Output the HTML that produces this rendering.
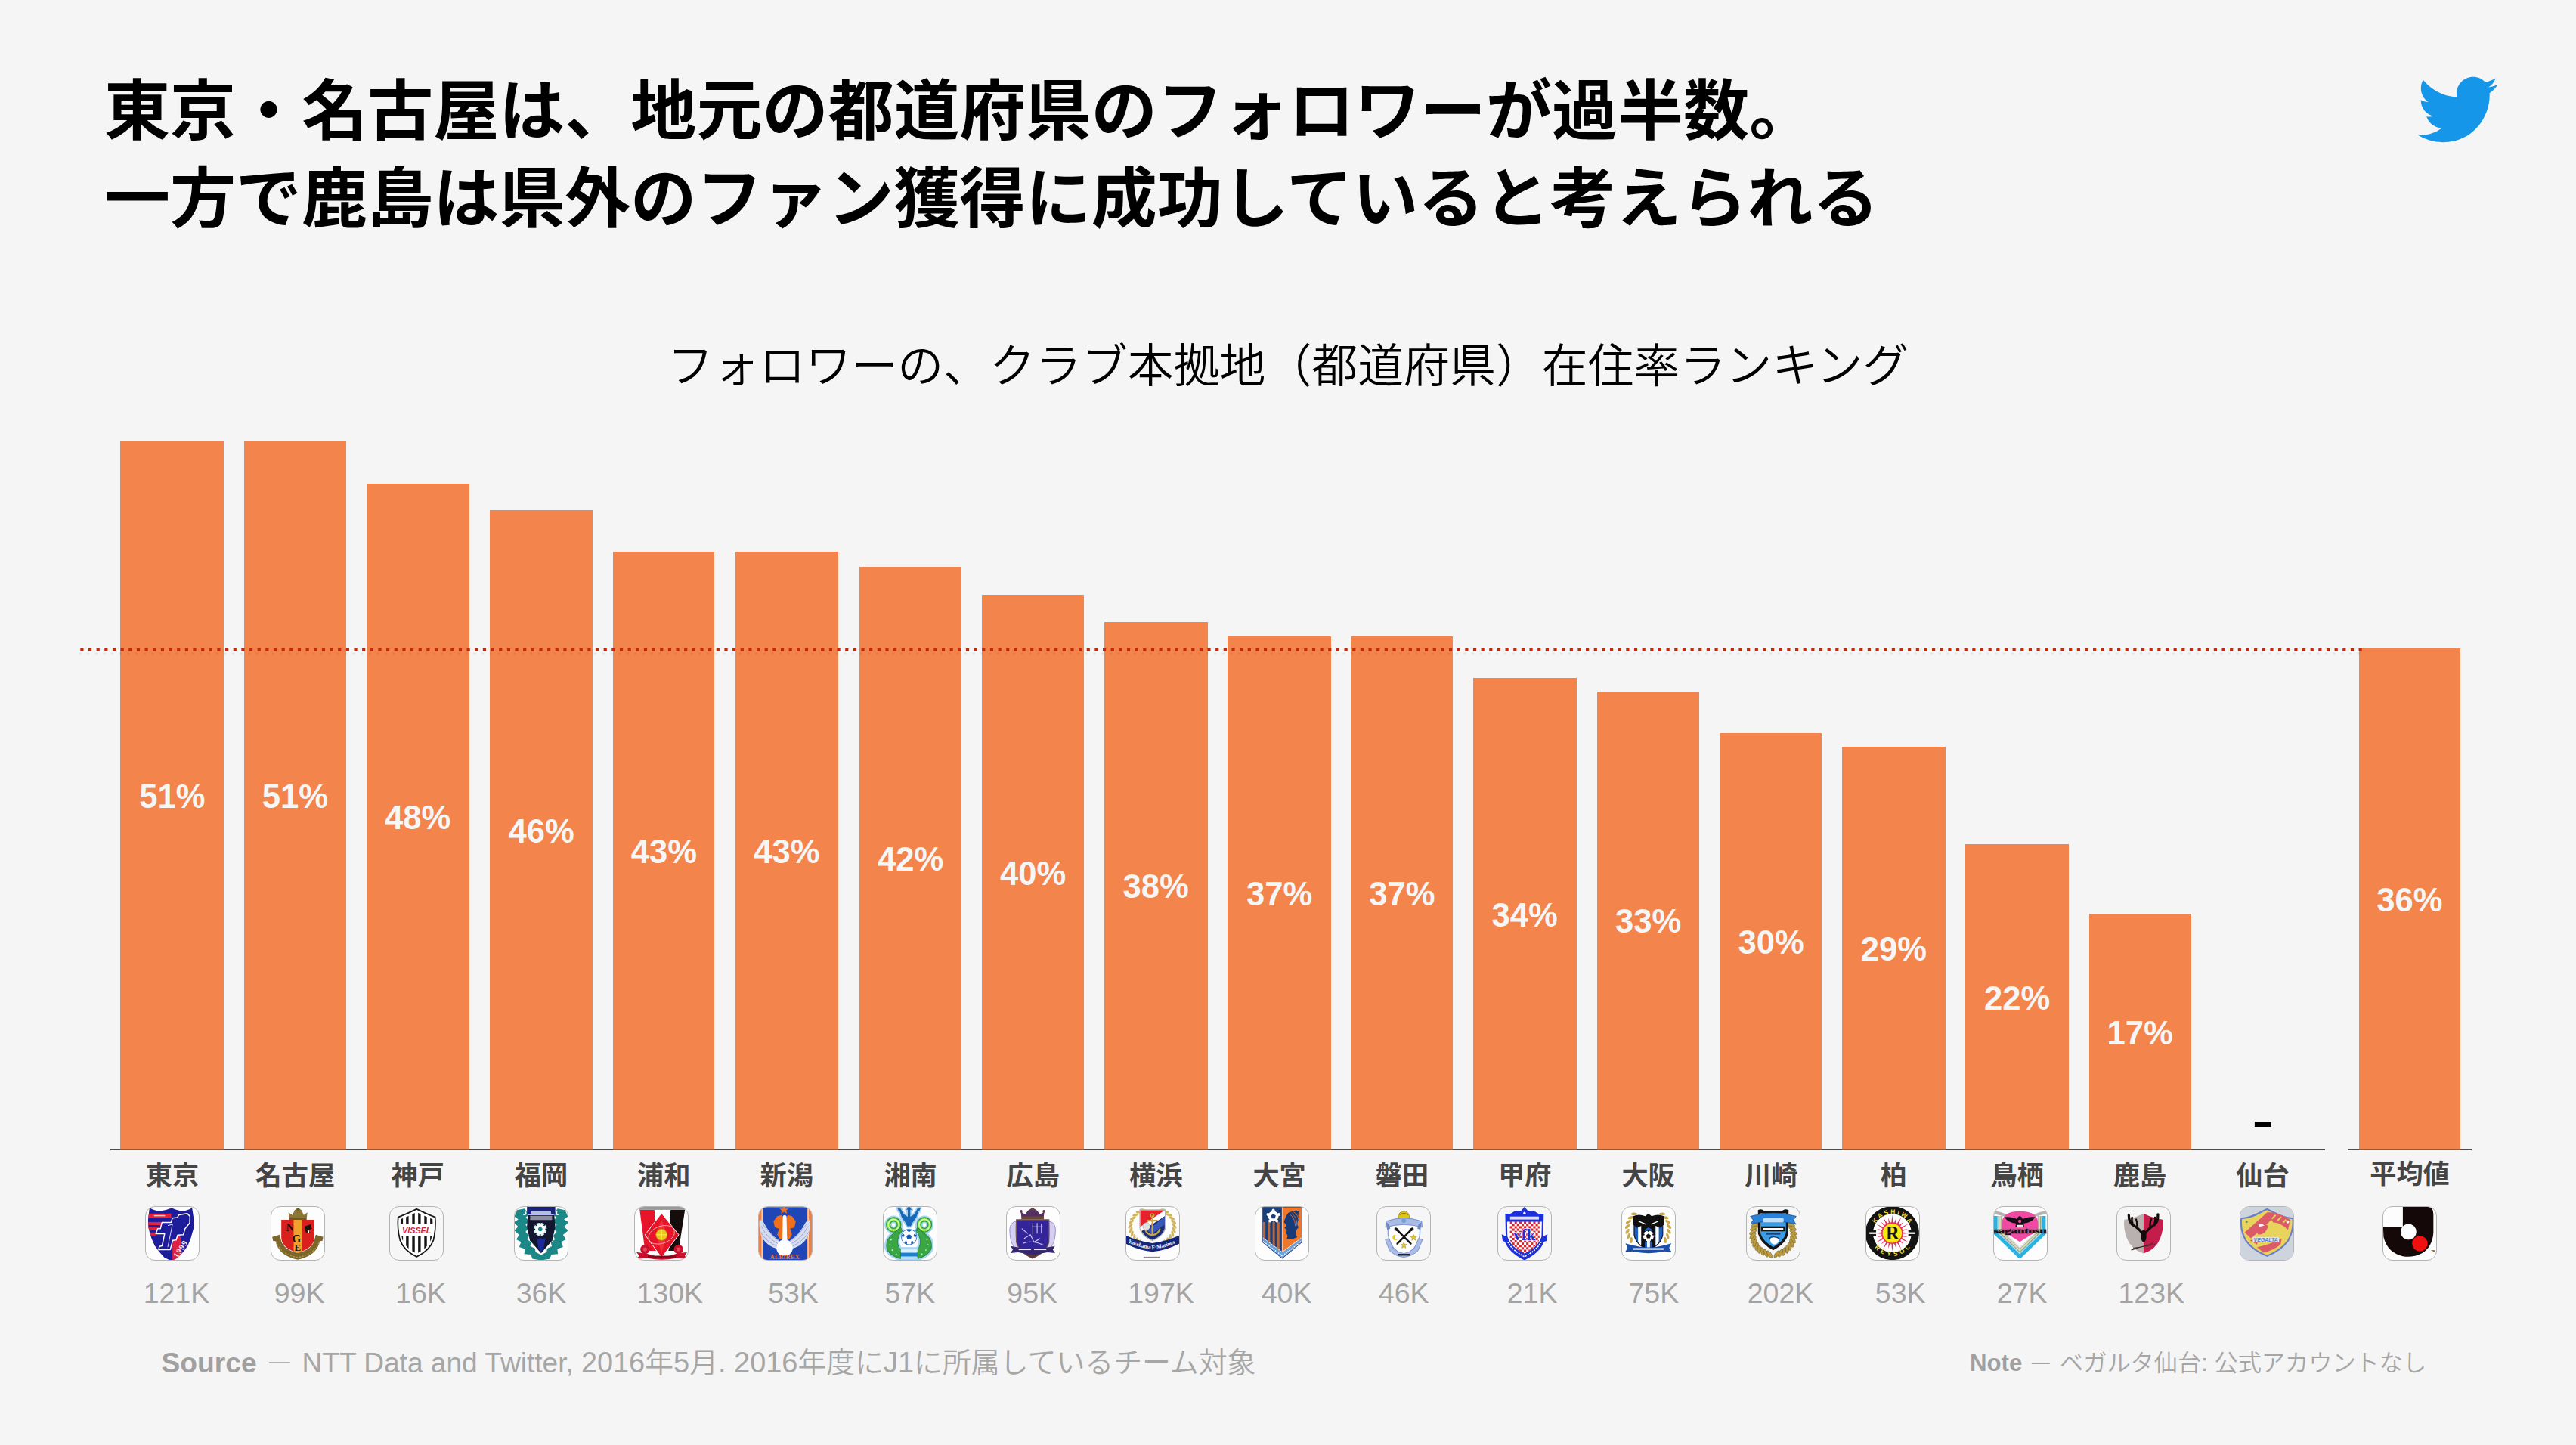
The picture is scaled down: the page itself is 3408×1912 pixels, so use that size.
<!DOCTYPE html>
<html lang="ja"><head><meta charset="utf-8"><title>フォロワーの、クラブ本拠地（都道府県）在住率ランキング</title>
<style>
html,body{margin:0;padding:0;background:#f5f5f5;}
body{width:3408px;height:1912px;position:relative;overflow:hidden;font-family:"Liberation Sans","Noto Sans CJK JP",sans-serif;}
.abs{position:absolute;white-space:nowrap;}
.title{left:138px;top:89.8px;font-size:87.05px;line-height:116.2px;font-weight:700;color:#000;letter-spacing:0;}
.sub{left:0;width:3408px;top:439.5px;text-align:center;font-size:60.9px;line-height:90px;font-weight:350;color:#000;font-family:"Liberation Sans","Noto Sans CJK JP DemiLight","Noto Sans CJK JP",sans-serif;}
.bar{position:absolute;background:#f3844b;display:flex;align-items:center;justify-content:center;border-bottom:2px solid #a2542c;box-sizing:border-box;}
.pct{color:#f6f6f6;font-weight:700;font-size:43.6px;line-height:44px;position:relative;top:2px;}
.axis{position:absolute;height:2px;background:#4c4c4c;top:1520px;}
.lab{position:absolute;top:1528px;width:200px;text-align:center;font-weight:700;font-size:35.2px;line-height:52px;color:#454545;white-space:nowrap;}
.ico{position:absolute;top:1596px;width:72px;height:72px;box-sizing:border-box;border:1px solid #b4b4b4;border-radius:13px;background:#fdfdfd;overflow:hidden;}
.ico svg{position:absolute;left:-1px;top:-1px;width:72px;height:72px;display:block;}
.num{position:absolute;top:1689px;width:200px;text-align:center;font-size:37.5px;line-height:44px;color:#a3a3a3;font-weight:400;white-space:nowrap;}
.foot{color:#a6a6a6;}
.foot b{color:#a0a0a0;font-weight:700;}
</style></head><body>
<div class="abs title">東京・名古屋は、地元の都道府県のフォロワーが過半数。<br>一方で鹿島は県外のファン獲得に成功していると考えられる</div>
<svg class="abs" style="left:3194.4px;top:88.9px;width:112.2px;height:112.2px" viewBox="0 0 24 24"><path fill="#1596e9" d="M23.643 4.937c-.835.37-1.732.62-2.675.733.962-.576 1.7-1.49 2.048-2.578-.9.534-1.897.922-2.958 1.13-.85-.904-2.06-1.47-3.4-1.47-2.572 0-4.658 2.086-4.658 4.66 0 .364.042.718.12 1.06-3.873-.195-7.304-2.05-9.602-4.868-.4.69-.63 1.49-.63 2.342 0 1.616.823 3.043 2.072 3.878-.764-.025-1.482-.234-2.11-.583v.06c0 2.257 1.605 4.14 3.737 4.568-.392.106-.803.162-1.227.162-.3 0-.593-.028-.877-.082.593 1.85 2.313 3.198 4.352 3.234-1.595 1.25-3.604 1.995-5.786 1.995-.376 0-.747-.022-1.112-.065 2.062 1.323 4.51 2.093 7.14 2.093 8.57 0 13.255-7.098 13.255-13.254 0-.2-.005-.402-.014-.602.91-.658 1.7-1.477 2.323-2.41z"/></svg>
<div class="abs sub">フォロワーの、クラブ本拠地（都道府県）在住率ランキング</div>
<div class="axis" style="left:145.5px;width:2930.7px"></div>
<div class="axis" style="left:3106.3px;width:163.6px"></div>
<div class="bar" style="left:159.4px;width:137.0px;top:584.4px;height:937.6px"><span class="pct">51%</span></div>
<div class="bar" style="left:323.0px;width:134.9px;top:584.4px;height:937.6px"><span class="pct">51%</span></div>
<div class="bar" style="left:484.6px;width:136.3px;top:639.5px;height:882.5px"><span class="pct">48%</span></div>
<div class="bar" style="left:647.6px;width:136.9px;top:675.2px;height:846.8px"><span class="pct">46%</span></div>
<div class="bar" style="left:811.2px;width:134.2px;top:730.0px;height:792.0px"><span class="pct">43%</span></div>
<div class="bar" style="left:972.7px;width:136.2px;top:730.0px;height:792.0px"><span class="pct">43%</span></div>
<div class="bar" style="left:1137.0px;width:135.2px;top:749.7px;height:772.3px"><span class="pct">42%</span></div>
<div class="bar" style="left:1299.2px;width:134.9px;top:787.1px;height:734.9px"><span class="pct">40%</span></div>
<div class="bar" style="left:1460.8px;width:136.9px;top:822.5px;height:699.5px"><span class="pct">38%</span></div>
<div class="bar" style="left:1624.4px;width:136.3px;top:842.2px;height:679.8px"><span class="pct">37%</span></div>
<div class="bar" style="left:1787.6px;width:134.7px;top:842.1px;height:679.9px"><span class="pct">37%</span></div>
<div class="bar" style="left:1949.0px;width:136.5px;top:897.1px;height:624.9px"><span class="pct">34%</span></div>
<div class="bar" style="left:2112.6px;width:135.9px;top:914.8px;height:607.2px"><span class="pct">33%</span></div>
<div class="bar" style="left:2275.9px;width:134.5px;top:969.9px;height:552.1px"><span class="pct">30%</span></div>
<div class="bar" style="left:2437.1px;width:136.7px;top:987.6px;height:534.4px"><span class="pct">29%</span></div>
<div class="bar" style="left:2600.4px;width:136.6px;top:1117.0px;height:405.0px"><span class="pct">22%</span></div>
<div class="bar" style="left:2763.7px;width:134.9px;top:1209.2px;height:312.8px"><span class="pct">17%</span></div>
<div class="abs" id="dash" style="left:2964.2px;top:1452.6px;width:60px;text-align:center;font-size:55px;line-height:60px;font-weight:700;color:#000;transform:scaleX(1.58)">-</div>
<div class="bar" style="left:3120.7px;width:134.6px;top:857.7px;height:664.3px"><span class="pct">36%</span></div>
<svg class="abs" style="left:0;top:850px;width:3408px;height:20px" viewBox="0 0 3408 20"><line x1="104.3" y1="15" x2="3124" y2="15" stroke="#000" stroke-opacity="0.06" stroke-width="3" stroke-dasharray="3.4 7.251"/><line x1="106.3" y1="9.9" x2="3126" y2="9.9" stroke="#c5290b" stroke-width="4.2" stroke-dasharray="4.2 6.451"/></svg>
<div class="lab" style="left:127.9px;top:1530px">東京</div>
<div class="ico" style="left:191.9px"><svg viewBox="0 0 72 72"><g transform="scale(0.16305) translate(-78,-68)">
<clipPath id="c1"><path d="M114,81 Q160,112 204,108 Q255,100 293,84 Q330,100 370,108 Q415,112 459,81 L474,180 Q476,240 465,270 Q452,330 424,388 Q392,440 346,483 L293,514 L233,483 Q190,440 156,388 Q126,330 114,280 Q100,240 102,180 Z"/></clipPath>
<g clip-path="url(#c1)">
<rect x="60" y="60" width="460" height="460" fill="#1d1c9a"/>
<rect x="90" y="128" width="200" height="36" fill="#e0213f"/>
<rect x="90" y="196" width="140" height="26" fill="#e0213f"/>
<rect x="90" y="240" width="100" height="24" fill="#e0213f"/>
<rect x="90" y="282" width="80" height="24" fill="#e0213f"/>
<rect x="300" y="318" width="66" height="200" fill="#e0213f"/>
<rect x="300" y="300" width="60" height="40" fill="#e0213f"/>
</g>
<path d="M215,200 L288,200 L300,165 L340,160 L352,138 L420,128 L442,150 L440,205 L402,250 L388,300 L342,302 L330,342 L302,346 L282,420 L188,420 L194,394 L216,390 L236,292 L165,292 L180,250 L202,250 Z" fill="#1d1c9a" stroke="#fff" stroke-width="9" stroke-linejoin="round"/>
<path d="M262,225 L300,215 L262,400" fill="none" stroke="#fff" stroke-width="5"/>
<text x="0" y="0" transform="translate(342,492) rotate(-57)" font-family="Liberation Serif,serif" font-weight="700" font-size="68" fill="#ffdfe4" letter-spacing="5">1999</text>
<rect x="150" y="140" width="90" height="10" fill="#fff" opacity=".7"/>
</g></svg></div>
<div class="num" style="left:133.5px">121K</div>
<div class="lab" style="left:290.4px;top:1530px">名古屋</div>
<div class="ico" style="left:357.5px"><svg viewBox="0 0 72 72"><g transform="scale(0.16305) translate(-1095,-68)">
<path d="M1108,318 L1168,300 L1180,345 Q1200,420 1315,448 Q1430,420 1450,345 L1462,300 L1522,318 L1515,350 L1495,352 Q1470,470 1315,502 Q1160,470 1135,352 L1115,350 Z" fill="#7d6629"/>
<path d="M1140,355 Q1170,455 1315,485 Q1460,455 1490,355" fill="none" stroke="#b39a4a" stroke-width="8" stroke-dasharray="14 10"/>
<path d="M1182,178 L1450,178 L1450,330 Q1440,410 1315,447 Q1192,410 1182,330 Z" fill="#d9201d"/>
<path d="M1282,178 L1352,178 L1352,432 L1315,447 L1282,434 Z" fill="#f0a12a"/>
<path d="M1248,178 L1240,118 L1272,140 L1290,100 L1318,82 L1346,100 L1364,140 L1394,118 L1386,178 Z" fill="#8b7636"/>
<circle cx="1318" cy="92" r="12" fill="#6d5a22"/><rect x="1248" y="160" width="138" height="18" fill="#6d5a22"/>
<g font-family="Liberation Serif,serif" font-weight="700" fill="#1a1208">
<text x="1222" y="272" font-size="86">N</text>
<text x="1270" y="360" font-size="92">G</text>
<text x="1288" y="432" font-size="80">E</text></g>
<path d="M1372,232 L1420,215 L1430,250 L1400,262 L1420,285 L1380,280 Z" fill="#1a1208"/>
<path d="M1395,262 Q1410,270 1402,285" stroke="#fff" stroke-width="8" fill="none"/>
</g></svg></div>
<div class="num" style="left:296.1px">99K</div>
<div class="lab" style="left:452.8px;top:1530px">神戸</div>
<div class="ico" style="left:515.0px;background:#f6f6f6"><svg viewBox="0 0 72 72"><g transform="scale(0.16305) translate(-2060,-68)">
<clipPath id="c3"><path d="M2132,158 Q2210,128 2282,92 Q2355,128 2432,158 Q2440,250 2418,345 Q2385,430 2282,478 Q2180,430 2148,345 Q2124,250 2132,158 Z" transform="translate(2282,285) scale(0.87) translate(-2282,-285)"/></clipPath>
<path d="M2132,158 Q2210,128 2282,92 Q2355,128 2432,158 Q2440,250 2418,345 Q2385,430 2282,478 Q2180,430 2148,345 Q2124,250 2132,158 Z" fill="#fff" stroke="#1a1a1a" stroke-width="11"/>
<g clip-path="url(#c3)"><rect x="2150" y="80" width="21" height="420" fill="#141414"/><rect x="2196" y="80" width="21" height="420" fill="#141414"/><rect x="2246" y="80" width="21" height="420" fill="#141414"/><rect x="2294" y="80" width="21" height="420" fill="#141414"/><rect x="2344" y="80" width="21" height="420" fill="#141414"/><rect x="2392" y="80" width="21" height="420" fill="#141414"/></g>
<path d="M2132,158 Q2210,128 2282,92 Q2355,128 2432,158 Q2440,250 2418,345 Q2385,430 2282,478 Q2180,430 2148,345 Q2124,250 2132,158 Z" fill="none" stroke="#fff" stroke-width="8" transform="translate(2282,285) scale(0.93) translate(-2282,-285)"/>
<rect x="2146" y="212" width="272" height="98" fill="#fff"/>
<text x="2164" y="288" font-family="Liberation Sans,sans-serif" font-weight="700" font-style="italic" font-size="62" fill="#d21d3c" textLength="236" lengthAdjust="spacingAndGlyphs">VISSEL</text>
</g></svg></div>
<div class="num" style="left:456.6px">16K</div>
<div class="lab" style="left:616.0px;top:1530px">福岡</div>
<div class="ico" style="left:680.0px"><svg viewBox="0 0 72 72"><g transform="scale(0.16305) translate(-65,-68)">
<g fill="#1c8787" stroke="#1c8787" stroke-width="12" stroke-linejoin="miter">
<path d="M95,105 L150,95 L175,140 L150,160 L185,190 L150,215 L175,250 L150,275 L180,310 L165,340 L200,365 L190,395 L230,415 L235,445 L285,470 L335,445 L340,415 L380,395 L370,365 L405,340 L390,310 L420,275 L395,250 L420,215 L385,190 L420,160 L395,140 L420,95 L475,105 L495,150 L460,175 L498,200 L462,235 L495,265 L455,300 L478,335 L440,355 L455,395 L410,410 L415,450 L365,455 L350,490 L285,500 L220,490 L205,455 L155,450 L160,410 L115,395 L130,355 L92,335 L115,300 L75,265 L108,235 L72,200 L110,175 L75,150 Z"/>
</g>
<path d="M170,68 L400,68 L400,135 L170,135 Z" fill="#1a237e"/>
<path d="M205,110 L365,110 L365,130 L205,130 Z" fill="#b8c0d0"/>
<path d="M178,140 L392,140 L400,235 L376,345 L285,450 L194,345 L170,235 Z" fill="#12162e"/><rect x="196" y="146" width="178" height="34" fill="#8c8ea0"/>
<path d="M250,330 L320,330 L305,415 L285,438 L265,415 Z" fill="#1a2a9a"/>
<circle cx="278" cy="255" r="54" fill="#d8f4f4"/>
<circle cx="278" cy="255" r="40" fill="#fff"/>
<circle cx="278" cy="255" r="17" fill="#1c8787"/>
<g stroke="#12162e" stroke-width="10"><path d="M278,198 V214 M278,296 V312 M221,255 H237 M319,255 H335 M238,215 L249,226 M307,284 L318,295 M238,295 L249,284 M307,226 L318,215"/></g>
<circle cx="150" cy="125" r="16" fill="#fff"/><circle cx="140" cy="120" r="14" fill="#1c8787"/>
<circle cx="418" cy="125" r="16" fill="#fff"/><circle cx="428" cy="120" r="14" fill="#1c8787"/>
</g></svg></div>
<div class="num" style="left:616.0px">36K</div>
<div class="lab" style="left:778.3px;top:1530px">浦和</div>
<div class="ico" style="left:838.9px"><svg viewBox="0 0 72 72"><g transform="scale(0.16305) translate(-1040,-68)">
<rect x="1080" y="68" width="372" height="30" fill="#9a9a9a"/>
<path d="M1085,98 L1205,98 L1222,430 L1128,430 Z" fill="#e8152a"/>
<path d="M1205,98 L1242,98 L1236,300 L1222,430 Z" fill="#fff"/>
<path d="M1335,98 L1452,98 L1400,430 L1318,430 Z" fill="#160c0c"/>
<path d="M1300,98 L1335,98 L1318,430 L1290,300 Z" fill="#fff"/>
<path d="M1262,125 L1402,300 L1262,485 L1128,300 Z" fill="#e8152a" stroke="#fff" stroke-width="6"/>
<path d="M1262,175 L1215,300 L1262,440 L1310,300 Z" fill="#f0303a"/>
<ellipse cx="1262" cy="300" rx="110" ry="70" fill="none" stroke="#f8b0b0" stroke-width="5" transform="rotate(-20 1262 300)"/>
<circle cx="1262" cy="300" r="45" fill="#e8c818"/>
<circle cx="1262" cy="300" r="45" fill="none" stroke="#c8a010" stroke-width="5"/>
<path d="M1220,300 H1304 M1262,258 V342" stroke="#f8e870" stroke-width="6"/>
<path d="M1058,440 L1150,455 Q1262,500 1380,455 L1470,440 L1450,470 L1472,495 L1380,490 Q1262,515 1150,490 L1060,495 L1082,470 Z" fill="#c8102e"/>
<circle cx="1128" cy="418" r="38" fill="#c8102e"/><circle cx="1128" cy="418" r="16" fill="#e8485a"/>
<circle cx="1400" cy="418" r="38" fill="#c8102e"/><circle cx="1400" cy="418" r="16" fill="#e8485a"/>
<rect x="1150" y="470" width="230" height="14" fill="#7a0a1a"/>
</g></svg></div>
<div class="num" style="left:786.3px">130K</div>
<div class="lab" style="left:940.8px;top:1530px">新潟</div>
<div class="ico" style="left:1002.8px"><svg viewBox="0 0 72 72"><g transform="scale(0.16305) translate(-2045,-68)">
<rect x="2045" y="68" width="440" height="440" fill="#e8824a"/>
<rect x="2085" y="78" width="358" height="430" fill="#2046b6"/>
<rect x="2072" y="68" width="10" height="440" fill="#f4c8b0"/>
<rect x="2446" y="68" width="10" height="440" fill="#f4c8b0"/>
<path d="M2255,62 L2266,88 L2294,88 L2272,104 L2280,130 L2255,114 L2230,130 L2238,104 L2216,88 L2244,88 Z" fill="#f0701c"/>
<path d="M2170,190 L2200,150 L2235,140 L2250,170 L2250,330 L2225,340 L2200,300 L2215,250 L2180,240 Z" fill="#f0701c"/>
<path d="M2350,190 L2320,150 L2285,140 L2270,170 L2270,330 L2295,340 L2320,300 L2305,250 L2340,240 Z" fill="#f0701c"/>
<path d="M2055,185 Q2070,170 2090,200 Q2140,300 2215,345 L2225,420 Q2120,400 2075,320 Q2050,260 2055,185 Z" fill="#d6dcf0"/>
<path d="M2465,185 Q2450,170 2430,200 Q2380,300 2305,345 L2295,420 Q2400,400 2445,320 Q2470,260 2465,185 Z" fill="#d6dcf0"/>
<g stroke="#8c9cd0" stroke-width="5" fill="none">
<path d="M2070,230 Q2120,330 2210,375 M2062,275 Q2110,360 2215,400 M2085,215 Q2140,300 2212,350"/>
<path d="M2450,230 Q2400,330 2310,375 M2458,275 Q2410,360 2305,400 M2435,215 Q2380,300 2308,350"/>
</g>
<path d="M2245,150 Q2260,130 2275,150 L2280,340 Q2330,360 2325,420 Q2310,470 2260,470 Q2205,470 2195,420 Q2190,360 2242,340 Z" fill="#fff"/>
<text x="2140" y="500" font-family="Liberation Serif,serif" font-weight="700" font-size="50" fill="#f0701c" textLength="240" lengthAdjust="spacingAndGlyphs">ALBIREX</text>
</g></svg></div>
<div class="num" style="left:949.5px">53K</div>
<div class="lab" style="left:1104.6px;top:1530px">湘南</div>
<div class="ico" style="left:1167.9px"><svg viewBox="0 0 72 72"><g transform="scale(0.09705) translate(-88,-62)">
<g fill="#a4d4f4" stroke="#a4d4f4" stroke-width="56" stroke-linejoin="round">
<path d="M330,350 Q250,420 190,470 Q125,540 142,640 Q165,730 330,778 L330,650 Q280,600 292,520 Q305,440 352,400 Z"/><path d="M560,350 Q640,420 700,470 Q765,540 748,640 Q725,730 560,778 L560,650 Q610,600 598,520 Q585,440 538,400 Z"/><circle cx="235" cy="315" r="74" fill="none" stroke-width="100"/><circle cx="655" cy="315" r="74" fill="none" stroke-width="100"/><path d="M445,62 L482,112 L462,112 L462,205 L520,170 L560,95 L600,92 L585,130 L575,120 L545,215 L490,290 L470,335 L420,335 L400,290 L345,215 L315,120 L305,130 L290,92 L330,95 L370,170 L428,205 L428,112 L408,112 Z" stroke-width="40"/>
<rect x="330" y="650" width="232" height="128"/>
</g>
<circle cx="235" cy="315" r="74" fill="none" stroke="#2a9a3c" stroke-width="62"/>
<circle cx="655" cy="315" r="74" fill="none" stroke="#2a9a3c" stroke-width="62"/>
<circle cx="235" cy="315" r="74" fill="none" stroke="#8ae648" stroke-width="36"/>
<circle cx="655" cy="315" r="74" fill="none" stroke="#8ae648" stroke-width="36"/>
<circle cx="235" cy="315" r="74" fill="none" stroke="#e4ffc8" stroke-width="12"/>
<circle cx="655" cy="315" r="74" fill="none" stroke="#e4ffc8" stroke-width="12"/>
<path d="M330,350 Q250,420 190,470 Q125,540 142,640 Q165,730 330,778 L330,650 Q280,600 292,520 Q305,440 352,400 Z" fill="#3aa644" stroke="#23803a" stroke-width="10"/>
<path d="M560,350 Q640,420 700,470 Q765,540 748,640 Q725,730 560,778 L560,650 Q610,600 598,520 Q585,440 538,400 Z" fill="#3aa644" stroke="#23803a" stroke-width="10"/>
<path d="M445,62 L482,112 L462,112 L462,205 L520,170 L560,95 L600,92 L585,130 L575,120 L545,215 L490,290 L470,335 L420,335 L400,290 L345,215 L315,120 L305,130 L290,92 L330,95 L370,170 L428,205 L428,112 L408,112 Z" fill="#1968ba"/>
<circle cx="445" cy="482" r="106" fill="#fff" stroke="#2a6cc0" stroke-width="9"/>
<path d="M445,442 L483,470 L468,514 L422,514 L407,470 Z" fill="#1a5cb2"/>
<g fill="#1a5cb2"><path d="M445,380 L475,395 L445,415 L415,395 Z"/><path d="M545,455 L535,490 L505,470 L515,440 Z"/><path d="M345,455 L355,490 L385,470 L375,440 Z"/><path d="M505,570 L475,580 L470,545 L495,535 Z"/><path d="M385,570 L415,580 L420,545 L395,535 Z"/></g>
<g fill="#d8f8b8"><circle cx="200" cy="520" r="9"/><circle cx="185" cy="590" r="9"/><circle cx="215" cy="660" r="9"/><circle cx="270" cy="715" r="9"/><circle cx="690" cy="520" r="9"/><circle cx="705" cy="590" r="9"/><circle cx="675" cy="660" r="9"/><circle cx="620" cy="715" r="9"/></g>
<rect x="332" y="652" width="228" height="36" fill="#dff0fc"/>
<rect x="332" y="698" width="228" height="48" fill="#1a82d4"/>
<rect x="332" y="756" width="228" height="26" fill="#bfe0f8"/>
</g></svg></div>
<div class="num" style="left:1103.8px">57K</div>
<div class="lab" style="left:1266.7px;top:1530px">広島</div>
<div class="ico" style="left:1331.0px"><svg viewBox="0 0 72 72"><g transform="scale(0.16305) translate(-1113,-68)">
<g fill="#d6d0f0" stroke="#8a80d0" stroke-width="5">
<path d="M1195,190 Q1130,200 1145,300 Q1150,380 1200,425 L1215,400 Q1180,330 1195,190 Z"/>
<path d="M1462,190 Q1527,200 1512,300 Q1507,380 1457,425 L1442,400 Q1477,330 1462,190 Z"/>
</g>
<path d="M1240,172 L1232,112 L1268,135 L1290,105 L1328,80 L1366,105 L1388,135 L1424,112 L1416,172 Z" fill="#553060"/>
<rect x="1238" y="150" width="182" height="24" fill="#6a4638"/>
<circle cx="1328" cy="92" r="13" fill="#6a4638"/><circle cx="1236" cy="110" r="11" fill="#553060"/><circle cx="1420" cy="110" r="11" fill="#553060"/>
<path d="M1198,178 L1460,178 L1460,360 Q1440,440 1328,490 Q1216,440 1198,360 Z" fill="#33249a" stroke="#6e4a44" stroke-width="9"/>
<g stroke="#cfc8f4" stroke-width="7" fill="none">
<path d="M1240,250 L1290,290 M1260,330 L1310,300 L1340,360 L1390,330 M1330,205 L1330,300 M1365,205 L1365,290 M1400,210 L1400,290 M1322,235 H1412 M1250,370 Q1320,340 1420,385"/>
</g>
<path d="M1150,392 L1210,402 Q1328,430 1450,402 L1510,392 L1492,420 L1512,448 L1450,442 Q1328,470 1210,442 L1148,448 L1168,420 Z" fill="#35266e"/>
<rect x="1215" y="412" width="100" height="12" fill="#e8e4ff"/><rect x="1340" y="412" width="100" height="12" fill="#e8e4ff"/>
<path d="M1270,452 Q1328,475 1390,452 L1328,488 Z" fill="#5a3a30"/>
</g></svg></div>
<div class="num" style="left:1265.7px">95K</div>
<div class="lab" style="left:1429.2px;top:1530px">横浜</div>
<div class="ico" style="left:1489.1px"><svg viewBox="0 0 72 72"><g transform="scale(0.16305) translate(-2082,-68)">
<g fill="#d2b45a"><ellipse cx="2225" cy="99" rx="26" ry="10" transform="rotate(10 2225 99)"/><ellipse cx="2375" cy="99" rx="26" ry="10" transform="rotate(-10 2375 99)"/><ellipse cx="2192" cy="116" rx="26" ry="10" transform="rotate(-2 2192 116)"/><ellipse cx="2408" cy="116" rx="26" ry="10" transform="rotate(2 2408 116)"/><ellipse cx="2164" cy="139" rx="26" ry="10" transform="rotate(-15 2164 139)"/><ellipse cx="2436" cy="139" rx="26" ry="10" transform="rotate(15 2436 139)"/><ellipse cx="2142" cy="166" rx="26" ry="10" transform="rotate(-28 2142 166)"/><ellipse cx="2458" cy="166" rx="26" ry="10" transform="rotate(28 2458 166)"/><ellipse cx="2128" cy="196" rx="26" ry="10" transform="rotate(-40 2128 196)"/><ellipse cx="2472" cy="196" rx="26" ry="10" transform="rotate(40 2472 196)"/><ellipse cx="2122" cy="228" rx="26" ry="10" transform="rotate(-52 2122 228)"/><ellipse cx="2478" cy="228" rx="26" ry="10" transform="rotate(52 2478 228)"/><ellipse cx="2125" cy="261" rx="26" ry="10" transform="rotate(-65 2125 261)"/><ellipse cx="2475" cy="261" rx="26" ry="10" transform="rotate(65 2475 261)"/><ellipse cx="2136" cy="292" rx="26" ry="10" transform="rotate(-78 2136 292)"/><ellipse cx="2464" cy="292" rx="26" ry="10" transform="rotate(78 2464 292)"/><ellipse cx="2154" cy="321" rx="26" ry="10" transform="rotate(-90 2154 321)"/><ellipse cx="2446" cy="321" rx="26" ry="10" transform="rotate(90 2446 321)"/><ellipse cx="2180" cy="346" rx="26" ry="10" transform="rotate(-102 2180 346)"/><ellipse cx="2420" cy="346" rx="26" ry="10" transform="rotate(102 2420 346)"/><ellipse cx="2211" cy="365" rx="26" ry="10" transform="rotate(-115 2211 365)"/><ellipse cx="2389" cy="365" rx="26" ry="10" transform="rotate(115 2389 365)"/><ellipse cx="2246" cy="378" rx="26" ry="10" transform="rotate(-128 2246 378)"/><ellipse cx="2354" cy="378" rx="26" ry="10" transform="rotate(128 2354 378)"/></g>
<path d="M2198,98 L2405,98 L2405,250 Q2390,310 2300,348 Q2212,310 2198,250 Z" fill="#fff" stroke="#b8b8b0" stroke-width="7"/>
<path d="M2202,102 L2400,102 L2202,235 Z" fill="#e8202c"/>
<path d="M2400,150 L2400,250 Q2388,305 2300,342 Q2235,315 2212,270 Z" fill="#1c2c78"/>
<path d="M2400,150 L2400,215 L2300,290 L2260,270 Z" fill="#3858b8"/>
<g stroke="#c8a848" stroke-width="13" fill="none" stroke-linecap="round"><path d="M2300,150 V300 M2262,185 H2338 M2240,255 Q2262,305 2300,300 Q2338,305 2360,255"/></g>
<circle cx="2300" cy="142" r="14" fill="none" stroke="#c8a848" stroke-width="8"/>
<circle cx="2252" cy="232" r="30" fill="#e0e0e0" stroke="#9a9a9a" stroke-width="4"/>
<path d="M2082,305 Q2190,355 2300,368 Q2410,355 2520,305 L2520,372 Q2410,428 2300,438 Q2190,428 2082,372 Z" fill="#16267a"/>
<path id="mtx" d="M2100,362 Q2200,408 2300,418 Q2400,408 2505,362" fill="none"/>
<text font-family="Liberation Serif,serif" font-weight="700" font-size="46" fill="#fff"><textPath href="#mtx" textLength="400" lengthAdjust="spacingAndGlyphs">Yokohama F·Marinos</textPath></text>
<rect x="2228" y="478" width="130" height="9" fill="#8a8a8a"/>
</g></svg></div>
<div class="num" style="left:1436.0px">197K</div>
<div class="lab" style="left:1592.6px;top:1530px">大宮</div>
<div class="ico" style="left:1660.4px"><svg viewBox="0 0 72 72"><g transform="scale(0.16305) translate(-125,-68)">
<clipPath id="c10"><path d="M188,76 L508,76 L508,360 L348,492 L188,360 Z"/></clipPath>
<g clip-path="url(#c10)">
<rect x="180" y="70" width="340" height="430" fill="#b9683c"/>
<rect x="212" y="196" width="20" height="260" fill="#1b3f7a"/><rect x="250" y="196" width="20" height="260" fill="#1b3f7a"/><rect x="288" y="196" width="20" height="260" fill="#1b3f7a"/><rect x="326" y="196" width="20" height="260" fill="#1b3f7a"/>
<rect x="188" y="76" width="160" height="120" fill="#1b3f7a"/>
<rect x="348" y="76" width="170" height="400" fill="#ee772a"/>
<path d="M188,322 L348,440 L508,322 L508,372 L348,500 L188,372 Z" fill="#6d9fd8"/>
<path d="M188,322 L348,440 L508,322" fill="none" stroke="#fff" stroke-width="5"/>
<path d="M188,350 L348,472 L508,350" fill="none" stroke="#fff" stroke-width="9" stroke-dasharray="9 7"/>
</g>
<path d="M188,76 L508,76 L508,360 L348,492 L188,360 Z" fill="none" stroke="#1b3f7a" stroke-width="5"/>
<circle cx="276" cy="150" r="42" fill="#fff"/>
<path d="M276,130 L296,144 L288,168 L264,168 L256,144 Z" fill="#1b3f7a"/>
<g fill="#fff"><circle cx="276" cy="102" r="12"/><circle cx="320" cy="135" r="12"/><circle cx="304" cy="188" r="12"/><circle cx="248" cy="188" r="12"/><circle cx="232" cy="135" r="12"/></g>
<path d="M400,120 Q450,95 490,110 Q470,140 485,170 Q460,200 480,240 Q440,280 470,320 Q420,345 385,330 Q400,300 375,285 Q400,265 365,245 Q395,225 362,200 Q372,150 400,120 Z" fill="#173a78"/>
<g stroke="#ee772a" stroke-width="5" fill="none"><path d="M410,135 Q450,160 455,230 M425,125 Q470,160 468,225 M440,115 Q480,140 480,180"/></g>
<line x1="348" y1="76" x2="348" y2="438" stroke="#fff" stroke-width="4"/>
</g></svg></div>
<div class="num" style="left:1602.1px">40K</div>
<div class="lab" style="left:1754.9px;top:1530px">磐田</div>
<div class="ico" style="left:1821.2px;background:#f6f6f6"><svg viewBox="0 0 72 72"><g transform="scale(0.16305) translate(-1113,-68)">
<circle cx="1335" cy="155" r="46" fill="#dcc51e" stroke="#9a8a20" stroke-width="5"/>
<path d="M1300,140 Q1335,110 1370,140" stroke="#8a7a10" stroke-width="6" fill="none"/>
<path d="M1215,215 Q1335,190 1460,215 Q1480,300 1440,380 Q1400,440 1335,468 Q1270,440 1232,380 Q1192,300 1215,215 Z" fill="#fff" stroke="#8ea6da" stroke-width="9"/>
<path d="M1190,190 Q1335,140 1480,190 L1485,240 Q1335,195 1188,240 Z" fill="#a9bce6" stroke="#6f88c4" stroke-width="5"/>
<path d="M1190,195 L1200,260 L1225,250 L1215,215 Z" fill="#6f88c4"/><path d="M1480,195 L1470,260 L1445,250 L1455,215 Z" fill="#6f88c4"/>
<circle cx="1335" cy="185" r="18" fill="#6fa0d8"/>
<g stroke="#141414" stroke-width="15" stroke-linecap="round"><path d="M1282,262 L1392,372 M1392,262 L1282,372"/></g>
<g fill="#141414"><ellipse cx="1278" cy="258" rx="22" ry="12" transform="rotate(35 1278 258)"/><ellipse cx="1396" cy="258" rx="22" ry="12" transform="rotate(-35 1396 258)"/></g>
<circle cx="1266" cy="322" r="22" fill="#e0c820"/><circle cx="1278" cy="318" r="17" fill="#fff"/>
<path d="M1415,298 L1422,315 L1440,316 L1426,328 L1431,346 L1415,336 L1399,346 L1404,328 L1390,316 L1408,315 Z" fill="#e0c820" stroke="#9a8a20" stroke-width="3"/>
<path d="M1335,360 L1342,377 L1360,378 L1346,390 L1351,408 L1335,398 L1319,408 L1324,390 L1310,378 L1328,377 Z" fill="#e0c820" stroke="#9a8a20" stroke-width="3"/>
<path d="M1185,340 L1215,330 L1250,410 Q1290,445 1335,452 Q1380,445 1420,410 L1455,330 L1487,340 L1450,430 Q1400,475 1335,482 Q1270,475 1220,430 Z" fill="#a9bce6" stroke="#6f88c4" stroke-width="5"/>
<rect x="1285" y="455" width="100" height="14" fill="#141414"/>
</g></svg></div>
<div class="num" style="left:1757.2px">46K</div>
<div class="lab" style="left:1917.2px;top:1530px">甲府</div>
<div class="ico" style="left:1981.4px;background:#f6f6f6"><svg viewBox="0 0 72 72"><g transform="scale(0.16305) translate(-2095,-68)">
<clipPath id="c12"><path d="M2194,190 L2438,190 L2438,330 Q2422,398 2315,455 Q2208,398 2194,330 Z"/></clipPath>
<path d="M2166,136 L2205,136 L2240,114 L2290,114 L2315,84 L2340,114 L2390,114 L2425,136 L2464,136 L2460,330 Q2442,420 2315,494 Q2188,420 2170,330 Z" fill="#fff" stroke="#1c2fd8" stroke-width="14"/>
<g clip-path="url(#c12)"><rect x="2190" y="186" width="260" height="280" fill="#fff"/><g fill="#e0242c"><rect x="2196" y="192" width="19" height="19"/><rect x="2234" y="192" width="19" height="19"/><rect x="2272" y="192" width="19" height="19"/><rect x="2310" y="192" width="19" height="19"/><rect x="2348" y="192" width="19" height="19"/><rect x="2386" y="192" width="19" height="19"/><rect x="2424" y="192" width="19" height="19"/><rect x="2215" y="211" width="19" height="19"/><rect x="2253" y="211" width="19" height="19"/><rect x="2291" y="211" width="19" height="19"/><rect x="2329" y="211" width="19" height="19"/><rect x="2367" y="211" width="19" height="19"/><rect x="2405" y="211" width="19" height="19"/><rect x="2196" y="230" width="19" height="19"/><rect x="2234" y="230" width="19" height="19"/><rect x="2272" y="230" width="19" height="19"/><rect x="2310" y="230" width="19" height="19"/><rect x="2348" y="230" width="19" height="19"/><rect x="2386" y="230" width="19" height="19"/><rect x="2424" y="230" width="19" height="19"/><rect x="2215" y="249" width="19" height="19"/><rect x="2253" y="249" width="19" height="19"/><rect x="2291" y="249" width="19" height="19"/><rect x="2329" y="249" width="19" height="19"/><rect x="2367" y="249" width="19" height="19"/><rect x="2405" y="249" width="19" height="19"/><rect x="2196" y="268" width="19" height="19"/><rect x="2234" y="268" width="19" height="19"/><rect x="2272" y="268" width="19" height="19"/><rect x="2310" y="268" width="19" height="19"/><rect x="2348" y="268" width="19" height="19"/><rect x="2386" y="268" width="19" height="19"/><rect x="2424" y="268" width="19" height="19"/><rect x="2215" y="287" width="19" height="19"/><rect x="2253" y="287" width="19" height="19"/><rect x="2291" y="287" width="19" height="19"/><rect x="2329" y="287" width="19" height="19"/><rect x="2367" y="287" width="19" height="19"/><rect x="2405" y="287" width="19" height="19"/><rect x="2196" y="306" width="19" height="19"/><rect x="2234" y="306" width="19" height="19"/><rect x="2272" y="306" width="19" height="19"/><rect x="2310" y="306" width="19" height="19"/><rect x="2348" y="306" width="19" height="19"/><rect x="2386" y="306" width="19" height="19"/><rect x="2424" y="306" width="19" height="19"/><rect x="2215" y="325" width="19" height="19"/><rect x="2253" y="325" width="19" height="19"/><rect x="2291" y="325" width="19" height="19"/><rect x="2329" y="325" width="19" height="19"/><rect x="2367" y="325" width="19" height="19"/><rect x="2405" y="325" width="19" height="19"/><rect x="2196" y="344" width="19" height="19"/><rect x="2234" y="344" width="19" height="19"/><rect x="2272" y="344" width="19" height="19"/><rect x="2310" y="344" width="19" height="19"/><rect x="2348" y="344" width="19" height="19"/><rect x="2386" y="344" width="19" height="19"/><rect x="2424" y="344" width="19" height="19"/><rect x="2215" y="363" width="19" height="19"/><rect x="2253" y="363" width="19" height="19"/><rect x="2291" y="363" width="19" height="19"/><rect x="2329" y="363" width="19" height="19"/><rect x="2367" y="363" width="19" height="19"/><rect x="2405" y="363" width="19" height="19"/><rect x="2196" y="382" width="19" height="19"/><rect x="2234" y="382" width="19" height="19"/><rect x="2272" y="382" width="19" height="19"/><rect x="2310" y="382" width="19" height="19"/><rect x="2348" y="382" width="19" height="19"/><rect x="2386" y="382" width="19" height="19"/><rect x="2424" y="382" width="19" height="19"/><rect x="2215" y="401" width="19" height="19"/><rect x="2253" y="401" width="19" height="19"/><rect x="2291" y="401" width="19" height="19"/><rect x="2329" y="401" width="19" height="19"/><rect x="2367" y="401" width="19" height="19"/><rect x="2405" y="401" width="19" height="19"/><rect x="2196" y="420" width="19" height="19"/><rect x="2234" y="420" width="19" height="19"/><rect x="2272" y="420" width="19" height="19"/><rect x="2310" y="420" width="19" height="19"/><rect x="2348" y="420" width="19" height="19"/><rect x="2386" y="420" width="19" height="19"/><rect x="2424" y="420" width="19" height="19"/><rect x="2215" y="439" width="19" height="19"/><rect x="2253" y="439" width="19" height="19"/><rect x="2291" y="439" width="19" height="19"/><rect x="2329" y="439" width="19" height="19"/><rect x="2367" y="439" width="19" height="19"/><rect x="2405" y="439" width="19" height="19"/><rect x="2196" y="458" width="19" height="19"/><rect x="2234" y="458" width="19" height="19"/><rect x="2272" y="458" width="19" height="19"/><rect x="2310" y="458" width="19" height="19"/><rect x="2348" y="458" width="19" height="19"/><rect x="2386" y="458" width="19" height="19"/><rect x="2424" y="458" width="19" height="19"/></g></g>
<path d="M2166,136 L2205,136 L2240,114 L2290,114 L2315,84 L2340,114 L2390,114 L2425,136 L2464,136 L2462,194 L2168,194 Z" fill="#1c2fd8"/>
<rect x="2198" y="152" width="234" height="24" fill="#fff" opacity=".85"/>
<circle cx="2315" cy="124" r="10" fill="#fff"/>
<text x="2226" y="345" font-family="Liberation Serif,serif" font-weight="700" font-size="135" fill="#1c2fd8" stroke="#fff" stroke-width="5" paint-order="stroke" textLength="178" lengthAdjust="spacingAndGlyphs">vfk</text>
<path d="M2130,296 L2178,318 Q2204,402 2315,452 Q2426,402 2452,318 L2502,296 L2494,350 L2474,356 Q2440,446 2315,506 Q2190,446 2156,356 L2138,350 Z" fill="#1c2fd8"/>
<path d="M2180,358 Q2212,424 2315,478 Q2418,424 2450,358" fill="none" stroke="#fff" stroke-width="10" stroke-dasharray="13 8"/>
</g></svg></div>
<div class="num" style="left:1927.1px">21K</div>
<div class="lab" style="left:2080.6px;top:1530px">大阪</div>
<div class="ico" style="left:2144.7px"><svg viewBox="0 0 72 72"><g transform="scale(0.16305) translate(-92,-68)">
<g fill="#c9a94a"><ellipse cx="196" cy="131" rx="24" ry="11" transform="rotate(-2 196 131)"/><ellipse cx="424" cy="131" rx="24" ry="11" transform="rotate(2 424 131)"/><ellipse cx="169" cy="161" rx="24" ry="11" transform="rotate(-16 169 161)"/><ellipse cx="451" cy="161" rx="24" ry="11" transform="rotate(16 451 161)"/><ellipse cx="150" cy="195" rx="24" ry="11" transform="rotate(-30 150 195)"/><ellipse cx="470" cy="195" rx="24" ry="11" transform="rotate(30 470 195)"/><ellipse cx="141" cy="233" rx="24" ry="11" transform="rotate(-44 141 233)"/><ellipse cx="479" cy="233" rx="24" ry="11" transform="rotate(44 479 233)"/><ellipse cx="142" cy="272" rx="24" ry="11" transform="rotate(-58 142 272)"/><ellipse cx="478" cy="272" rx="24" ry="11" transform="rotate(58 478 272)"/><ellipse cx="152" cy="310" rx="24" ry="11" transform="rotate(-72 152 310)"/><ellipse cx="468" cy="310" rx="24" ry="11" transform="rotate(72 468 310)"/><ellipse cx="172" cy="344" rx="24" ry="11" transform="rotate(-86 172 344)"/><ellipse cx="448" cy="344" rx="24" ry="11" transform="rotate(86 448 344)"/></g>
<clipPath id="c13"><path d="M196,205 L428,205 L428,300 Q415,380 312,425 Q210,380 196,300 Z"/></clipPath>
<g clip-path="url(#c13)">
<rect x="190" y="200" width="250" height="240" fill="#1b5fc2"/>
<rect x="228" y="200" width="26" height="240" fill="#fff"/><rect x="254" y="200" width="30" height="240" fill="#101010"/>
<rect x="340" y="200" width="30" height="240" fill="#101010"/><rect x="370" y="200" width="26" height="240" fill="#fff"/>
<rect x="284" y="200" width="56" height="240" fill="#1b5fc2"/>
</g>
<path d="M196,205 L428,205 L428,300 Q415,380 312,425 Q210,380 196,300 Z" fill="none" stroke="#101010" stroke-width="7"/>
<path d="M312,128 L338,150 Q390,128 438,150 L440,215 L405,245 L370,228 L345,260 L312,240 L280,260 L254,228 L220,245 L186,215 L188,150 Q235,128 286,150 Z" fill="#101010"/>
<path d="M232,190 L290,215 M392,190 L334,215" stroke="#fff" stroke-width="8"/>
<circle cx="312" cy="310" r="46" fill="#fff" stroke="#101010" stroke-width="5"/>
<path d="M312,290 L332,305 L324,328 L300,328 L292,305 Z" fill="#101010"/>
<g fill="#101010"><circle cx="312" cy="268" r="8"/><circle cx="352" cy="298" r="8"/><circle cx="338" cy="346" r="8"/><circle cx="286" cy="346" r="8"/><circle cx="272" cy="298" r="8"/></g>
<rect x="300" y="350" width="24" height="60" fill="#fff"/>
<path d="M125,370 L185,385 Q312,420 440,385 L498,370 L480,405 L500,440 L440,435 Q312,465 185,435 L123,440 L143,405 Z" fill="#1a4ea8"/>
<rect x="190" y="408" width="245" height="14" fill="#fff" opacity=".9"/>
</g></svg></div>
<div class="num" style="left:2087.9px">75K</div>
<div class="lab" style="left:2243.2px;top:1530px">川崎</div>
<div class="ico" style="left:2310.0px;background:#f6f6f6"><svg viewBox="0 0 72 72"><g transform="scale(0.16305) translate(-1105,-68)">
<g fill="#b99b42" stroke="#6e5a1e" stroke-width="3"><ellipse cx="1182" cy="220" rx="34" ry="14" transform="rotate(-15 1182 220)"/><ellipse cx="1468" cy="220" rx="34" ry="14" transform="rotate(15 1468 220)"/><ellipse cx="1169" cy="248" rx="34" ry="14" transform="rotate(-26 1169 248)"/><ellipse cx="1481" cy="248" rx="34" ry="14" transform="rotate(26 1481 248)"/><ellipse cx="1162" cy="278" rx="34" ry="14" transform="rotate(-37 1162 278)"/><ellipse cx="1488" cy="278" rx="34" ry="14" transform="rotate(37 1488 278)"/><ellipse cx="1160" cy="308" rx="34" ry="14" transform="rotate(-48 1160 308)"/><ellipse cx="1490" cy="308" rx="34" ry="14" transform="rotate(48 1490 308)"/><ellipse cx="1165" cy="339" rx="34" ry="14" transform="rotate(-59 1165 339)"/><ellipse cx="1485" cy="339" rx="34" ry="14" transform="rotate(59 1485 339)"/><ellipse cx="1175" cy="368" rx="34" ry="14" transform="rotate(-70 1175 368)"/><ellipse cx="1475" cy="368" rx="34" ry="14" transform="rotate(70 1475 368)"/><ellipse cx="1192" cy="394" rx="34" ry="14" transform="rotate(-81 1192 394)"/><ellipse cx="1458" cy="394" rx="34" ry="14" transform="rotate(81 1458 394)"/><ellipse cx="1212" cy="417" rx="34" ry="14" transform="rotate(-92 1212 417)"/><ellipse cx="1438" cy="417" rx="34" ry="14" transform="rotate(92 1438 417)"/><ellipse cx="1238" cy="436" rx="34" ry="14" transform="rotate(-103 1238 436)"/><ellipse cx="1412" cy="436" rx="34" ry="14" transform="rotate(103 1412 436)"/><ellipse cx="1266" cy="449" rx="34" ry="14" transform="rotate(-114 1266 449)"/><ellipse cx="1384" cy="449" rx="34" ry="14" transform="rotate(114 1384 449)"/><ellipse cx="1296" cy="458" rx="34" ry="14" transform="rotate(-125 1296 458)"/><ellipse cx="1354" cy="458" rx="34" ry="14" transform="rotate(125 1354 458)"/></g>
<path d="M1202,100 Q1230,85 1250,105 L1400,105 Q1420,85 1450,100 L1448,290 Q1430,370 1325,425 Q1222,370 1202,290 Z" fill="#141414"/>
<path d="M1222,125 L1430,125 L1428,288 Q1412,352 1325,400 Q1240,352 1222,288 Z" fill="#3a9de6"/>
<path d="M1140,150 L1185,140 Q1325,105 1465,140 L1512,150 L1490,180 L1510,215 L1465,205 Q1325,170 1185,205 L1140,215 L1162,180 Z" fill="#2b82da" stroke="#15407a" stroke-width="4"/>
<rect x="1245" y="165" width="165" height="34" rx="10" fill="#bfe0fa"/>
<rect x="1228" y="232" width="196" height="40" fill="#141414"/>
<rect x="1245" y="246" width="162" height="13" fill="#fff"/>
<rect x="1268" y="285" width="115" height="14" fill="#15407a"/>
<circle cx="1335" cy="345" r="34" fill="#fff"/>
<path d="M1290,330 Q1335,300 1380,335" stroke="#15407a" stroke-width="8" fill="none"/>
</g></svg></div>
<div class="num" style="left:2255.5px">202K</div>
<div class="lab" style="left:2405.4px;top:1530px">柏</div>
<div class="ico" style="left:2468.2px"><svg viewBox="0 0 72 72"><g transform="scale(0.16305) translate(-2078,-68)">
<circle cx="2295" cy="287" r="186" fill="none" stroke="#141414" stroke-width="62"/>
<circle cx="2295" cy="287" r="154" fill="#fff"/>
<rect x="2080" y="262" width="430" height="50" fill="#141414"/>
<rect x="2110" y="280" width="370" height="14" fill="#fff"/>
<circle cx="2295" cy="287" r="132" fill="#fff"/>
<path d="M2379,280 L2445,287 L2379,294 Z M2378,302 L2419,320 L2374,315 Z M2371,323 L2425,362 L2364,335 Z M2359,342 L2386,378 L2350,351 Z M2343,356 L2370,417 L2331,363 Z M2323,366 L2328,411 L2310,370 Z M2302,371 L2295,437 L2288,371 Z M2280,370 L2262,411 L2267,366 Z M2259,363 L2220,417 L2247,356 Z M2240,351 L2204,378 L2231,342 Z M2226,335 L2165,362 L2219,323 Z M2216,315 L2171,320 L2212,302 Z M2211,294 L2145,287 L2211,280 Z M2212,272 L2171,254 L2216,259 Z M2219,251 L2165,212 L2226,239 Z M2231,232 L2204,196 L2240,223 Z M2247,218 L2220,157 L2259,211 Z M2267,208 L2262,163 L2280,204 Z M2288,203 L2295,137 L2302,203 Z M2310,204 L2328,163 L2323,208 Z M2331,211 L2370,157 L2343,218 Z M2350,223 L2386,196 L2359,232 Z M2364,239 L2425,212 L2371,251 Z M2374,259 L2419,254 L2378,272 Z" fill="#e2325e"/>
<circle cx="2295" cy="287" r="88" fill="#e2325e"/>
<circle cx="2295" cy="287" r="78" fill="#f6ea10"/>
<text x="2243" y="338" font-family="Liberation Serif,serif" font-weight="700" font-size="150" fill="#141414">R</text>
<path id="rt1" d="M2138,287 A157,157 0 0 1 2452,287" fill="none"/>
<path id="rt2" d="M2110,287 A185,185 0 0 0 2480,287" fill="none"/>
<g font-family="Liberation Sans,sans-serif" font-weight="700" font-size="50" fill="#f0e23c">
<text><textPath href="#rt1" startOffset="50%" text-anchor="middle" textLength="330" lengthAdjust="spacing">KASHIWA</textPath></text>
<text><textPath href="#rt2" startOffset="50%" text-anchor="middle" textLength="330" lengthAdjust="spacing">REYSOL</textPath></text></g>
<circle cx="2092" cy="250" r="9" fill="#141414"/><circle cx="2092" cy="325" r="9" fill="#141414"/><circle cx="2500" cy="250" r="9" fill="#141414"/><circle cx="2500" cy="325" r="9" fill="#141414"/>
</g></svg></div>
<div class="num" style="left:2414.2px">53K</div>
<div class="lab" style="left:2568.7px;top:1530px">鳥栖</div>
<div class="ico" style="left:2636.7px"><svg viewBox="0 0 72 72"><g transform="scale(0.09705) translate(-78,-62)">
<path d="M78,120 Q170,135 260,175 L255,215 Q160,175 78,170 Z" fill="#b4b4b4"/>
<path d="M812,120 Q720,135 630,175 L635,215 Q730,175 812,170 Z" fill="#b4b4b4"/>
<path d="M112,195 L112,432 L440,750 L768,432 L768,195" fill="none" stroke="#2bb2de" stroke-width="50" stroke-linejoin="round"/>
<path d="M142,195 L142,419 L440,708 L738,419 L738,195" fill="none" stroke="#7adcf0" stroke-width="10"/>
<path d="M156,195 L156,414 L440,688 L724,414 L724,195" fill="none" stroke="#9c9c98" stroke-width="16"/>
<path d="M172,195 L172,407 L440,666 L708,407 L708,195" fill="none" stroke="#c6e08e" stroke-width="13"/>
<path d="M186,195 L186,401 L440,646 L694,401 L694,195" fill="none" stroke="#b2b2b2" stroke-width="14"/>
<path d="M200,195 L200,395 L440,627 L680,395 L680,195" fill="none" stroke="#dcdcdc" stroke-width="12"/>
<path d="M196,300 Q196,132 440,132 Q690,132 690,300 L690,392 L440,548 L196,392 Z" fill="#f24aa2"/>
<path d="M232,212 Q330,200 400,238 Q415,200 440,196 Q465,200 480,238 Q550,200 650,212 Q600,292 492,296 L500,350 L380,350 L388,296 Q282,292 232,212 Z" fill="#160e16"/>
<circle cx="440" cy="268" r="22" fill="#f24aa2"/>
<path d="M395,318 L485,318 L478,352 L402,352 Z" fill="#e8e8e8"/>
<rect x="84" y="372" width="722" height="52" fill="#6a6a6a" opacity=".35"/>
<text x="82" y="430" font-family="Liberation Serif,serif" font-weight="700" font-size="112" fill="#160e16" stroke="#160e16" stroke-width="5" textLength="726" lengthAdjust="spacingAndGlyphs">sagantosu</text>
</g></svg></div>
<div class="num" style="left:2575.2px">27K</div>
<div class="lab" style="left:2731.1px;top:1530px">鹿島</div>
<div class="ico" style="left:2800.0px;background:#f6f6f6"><svg viewBox="0 0 72 72"><g transform="scale(0.16305) translate(-1105,-68)">
<path d="M1168,178 Q1250,165 1325,128 L1325,452 Q1225,420 1190,330 Q1160,250 1168,178 Z" fill="#b9b0b0"/>
<path d="M1485,178 Q1400,165 1325,128 L1325,452 Q1425,420 1460,330 Q1490,250 1485,178 Z" fill="#c41d4b"/>
<g fill="none" stroke="#140c0c" stroke-linecap="round" stroke-linejoin="round">
<path d="M1322,300 Q1290,250 1245,225 Q1205,205 1205,140" stroke-width="20"/>
<path d="M1245,225 Q1225,195 1232,160" stroke-width="16"/>
<path d="M1272,240 Q1275,200 1265,175" stroke-width="14"/>
<path d="M1330,300 Q1362,250 1405,225 Q1445,205 1442,135" stroke-width="20"/>
<path d="M1405,225 Q1425,195 1418,160" stroke-width="16"/>
<path d="M1378,240 Q1375,200 1388,172" stroke-width="14"/>
</g>
<ellipse cx="1326" cy="310" rx="22" ry="50" fill="#140c0c"/>
<path d="M1225,425 Q1300,390 1420,380" stroke="#3a2a2a" stroke-width="9" fill="none"/>
<path d="M1240,408 L1290,402 M1330,395 L1400,368" stroke="#3a2a2a" stroke-width="6" fill="none"/>
</g></svg></div>
<div class="num" style="left:2746.3px">123K</div>
<div class="lab" style="left:2893.5px;top:1530px">仙台</div>
<div class="ico" style="left:2962.9px"><svg viewBox="0 0 72 72"><rect x="0" y="0" width="72" height="72" fill="#cdd4de"/><g transform="scale(0.16305) translate(-2108,-68)"><g opacity=".8">
<path d="M2122,168 C2210,165 2270,118 2330,92 C2390,118 2450,165 2540,168 Q2550,260 2500,350 Q2440,430 2330,472 Q2220,430 2160,350 Q2110,260 2122,165 Z" fill="#efd23c" stroke="#5068c8" stroke-width="13"/>
<path d="M2150,280 L2330,120 L2420,130 L2200,330 Z" fill="#e03c4c"/>
<path d="M2330,120 Q2420,110 2520,180 L2500,260 Q2440,200 2380,200 Z" fill="#e03c4c"/>
<path d="M2240,220 Q2300,190 2340,230 Q2320,300 2260,300 Q2230,270 2240,220 Z" fill="#e03c4c"/>
<path d="M2260,215 Q2290,205 2310,225 L2270,235 Z" fill="#fff"/>
<path d="M2340,230 Q2420,220 2470,270 Q2400,280 2380,310 L2320,300 Z" fill="#efd23c"/>
<path d="M2250,400 Q2350,380 2450,330 L2440,380 Q2380,430 2300,445 Z" fill="#e03c4c"/>
<path d="M2190,345 L2260,330 L2250,380 Z" fill="#e03c4c"/>
<g stroke="#efd23c" stroke-width="12"><path d="M2370,170 L2400,140 M2415,185 L2445,155 M2460,200 L2485,178"/></g>
<circle cx="2498" cy="195" r="12" fill="#fff"/>
<circle cx="2165" cy="195" r="9" fill="#508050"/>
<rect x="2214" y="318" width="214" height="44" rx="8" fill="#dfe6f4"/>
<text x="2222" y="354" font-family="Liberation Sans,sans-serif" font-weight="700" font-style="italic" font-size="42" fill="#4a68c8" textLength="198" lengthAdjust="spacingAndGlyphs">VEGALTA</text>
</g></g></svg></div>
<div class="lab" style="left:3088.0px;top:1528px">平均値</div>
<div class="ico" style="left:3152.2px"><svg viewBox="0 0 72 72"><g transform="scale(0.16305) translate(-1305,-68)">
<path d="M1470,68 L1660,68 Q1718,72 1718,135 L1718,285 Q1708,400 1625,450 Q1550,488 1470,474 Q1345,446 1314,320 L1310,238 L1470,238 Z" fill="#140808"/>
<circle cx="1516" cy="276" r="64" fill="#fff"/>
<circle cx="1608" cy="371" r="63" fill="#f01010"/>
<text x="1700" y="440" font-family="Liberation Sans,sans-serif" font-weight="700" font-size="22" fill="#222">TM</text>
</g></svg></div>
<div class="abs foot" style="left:213.5px;top:1779px;font-size:37.2px;line-height:48px"><b>Source</b></div>
<div class="abs foot" style="left:355.8px;top:1776.6px;font-size:28px;line-height:48px">—</div>
<div class="abs foot" style="left:399.5px;top:1779px;font-size:37.1px;line-height:48px">NTT Data and Twitter,</div>
<div class="abs foot" style="left:768.9px;top:1779px;font-size:37.9px;line-height:48px;font-family:&quot;Liberation Sans&quot;,&quot;Noto Sans CJK JP DemiLight&quot;,&quot;Noto Sans CJK JP&quot;,sans-serif;font-weight:350;">2016年5月. 2016年度にJ1に所属しているチーム対象</div>
<div class="abs foot" style="left:2606px;top:1783.6px;font-size:31.2px;line-height:40px"><b>Note</b></div>
<div class="abs foot" style="left:2687.8px;top:1781.6px;font-size:24px;line-height:40px">—</div>
<div class="abs foot" style="left:2725px;top:1783.6px;font-size:31.2px;line-height:40px;font-family:&quot;Liberation Sans&quot;,&quot;Noto Sans CJK JP DemiLight&quot;,&quot;Noto Sans CJK JP&quot;,sans-serif;font-weight:350;">ベガルタ仙台: 公式アカウントなし</div>
</body></html>
